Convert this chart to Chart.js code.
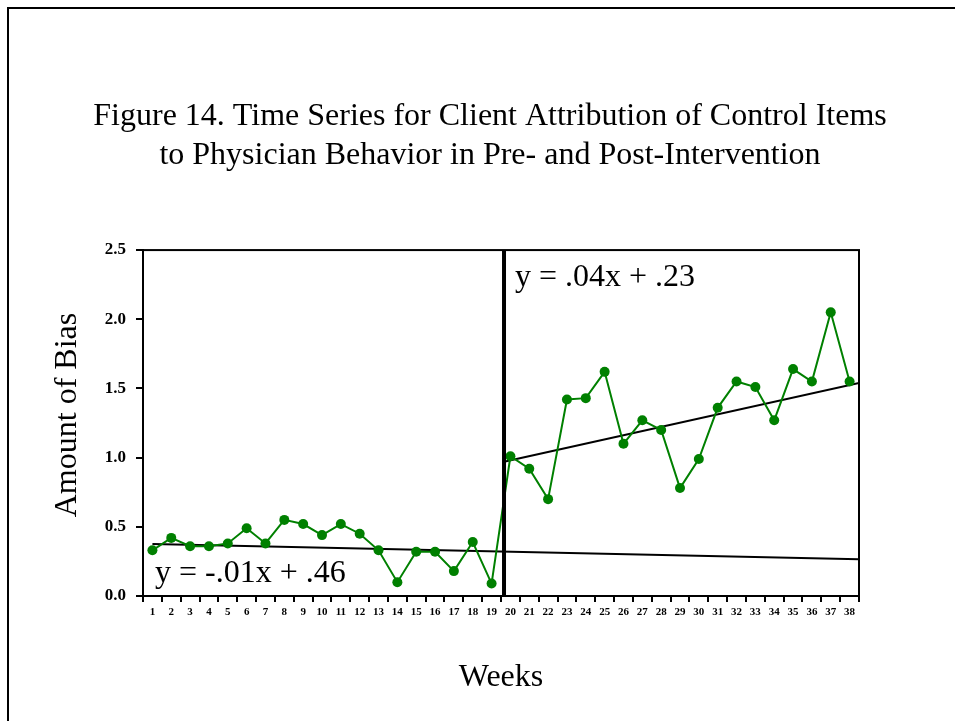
<!DOCTYPE html>
<html>
<head>
<meta charset="utf-8">
<script src="https://cdn.jsdelivr.net/npm/chart.js@4"></script>
<style>
  html, body { margin: 0; padding: 0; background: #fff; overflow: hidden; }
  .frame { position: absolute; left: 7px; top: 7px; border: 2px solid #000; width: 962px; height: 760px; }
  canvas { display: block; }
</style>
</head>
<body>
<div class="frame"><canvas id="myChart" width="962" height="760"></canvas></div>
<script>
const weeks = ["1","2","3","4","5","6","7","8","9","10","11","12","13","14","15","16","17","18","19",
    "20","21","22","23","24","25","26","27","28","29","30","31","32","33","34","35","36","37","38"]
const biasValues = [0.33, 0.42, 0.36, 0.36, 0.38, 0.49, 0.38, 0.55, 0.52, 0.44, 0.52, 0.45, 0.33, 0.10, 0.32, 0.32, 0.18, 0.39, 0.09,
    1.01, 0.92, 0.70, 1.42, 1.43, 1.62, 1.10, 1.27, 1.20, 0.78, 0.99, 1.36, 1.55, 1.51, 1.27, 1.64, 1.55, 2.05, 1.55]
const yTicks = [0, 0.5, 1.0, 1.5, 2.0, 2.5]

// fitted lines, start and end week
const preTrendX = [1, 38.5]
const preTrendY = [0.375, 0.265]
const postTrendX = [19.66, 38.5]
const postTrendY = [0.97, 1.54]
const interventionWeek = 19.66

const preLabel = "y = -.01x + .46"
const postLabel = "y = .04x + .23"
const preLabelAt = [1.14, 0.165]
const postLabelAt = [20.24, 2.30]

const serif = "'Liberation Serif', 'Times New Roman', serif"
const ctx = document.getElementById('myChart');

const points = biasValues.map((v, i) => ({ x: i + 1, y: v }))
const preLine = preTrendX.map((x, i) => ({ x: x, y: preTrendY[i] }))
const postLine = postTrendX.map((x, i) => ({ x: x, y: postTrendY[i] }))
const phaseLine = [{ x: interventionWeek, y: yTicks[0] }, { x: interventionWeek, y: yTicks[yTicks.length - 1] }]

const boxAndText = {
    id: 'boxAndText',
    afterDatasetsDraw(chart) {
        const c = chart.ctx
        const a = chart.chartArea
        const xs = chart.scales.x
        const ys = chart.scales.y
        c.save()
        c.strokeStyle = '#000'
        c.lineWidth = 2
        c.strokeRect(a.left, a.top, a.right - a.left, a.bottom - a.top)
        c.fillStyle = '#000'
        c.font = '32px ' + serif
        c.textAlign = 'left'
        c.textBaseline = 'middle'
        c.fillText(preLabel, xs.getPixelForValue(preLabelAt[0]), ys.getPixelForValue(preLabelAt[1]))
        c.fillText(postLabel, xs.getPixelForValue(postLabelAt[0]), ys.getPixelForValue(postLabelAt[1]))
        c.restore()
    }
}

new Chart(ctx, {
    type: 'line',
    data: {
        datasets: [{
            label: 'Amount of Bias',
            data: points,
            borderColor: '#008000',
            backgroundColor: '#008000',
            borderWidth: 2,
            pointRadius: 5,
            pointBorderWidth: 0,
            order: 1
        }, {
            label: 'pre trend',
            data: preLine,
            borderColor: '#000',
            borderWidth: 2,
            pointRadius: 0,
            order: 2
        }, {
            label: 'post trend',
            data: postLine,
            borderColor: '#000',
            borderWidth: 2,
            pointRadius: 0,
            order: 2
        }, {
            label: 'intervention',
            data: phaseLine,
            borderColor: '#000',
            borderWidth: 4,
            pointRadius: 0,
            order: 0
        }]
    },
    options: {
        responsive: false,
        animation: false,
        layout: { padding: 0 },
        plugins: {
            legend: { display: false },
            tooltip: { enabled: false },
            title: {
                display: true,
                text: ["Figure 14. Time Series for Client Attribution of Control Items",
                    "to Physician Behavior in Pre- and Post-Intervention"],
                color: '#000',
                font: { family: serif, size: 32, weight: 'normal', lineHeight: 1.22 },
                padding: { top: 88, bottom: 75 }
            }
        },
        scales: {
            x: {
                type: 'linear',
                min: 0.5,
                max: 38.5,
                afterBuildTicks: s => { s.ticks = weeks.map((w, i) => ({ value: i + 1 })) },
                afterFit: s => { s.height = 173 },
                ticks: {
                    autoSkip: false,
                    maxRotation: 0,
                    color: '#000',
                    padding: 4,
                    font: { family: serif, size: 11, weight: 'bold' },
                    callback: (v, i) => weeks[i]
                },
                grid: { offset: true, drawOnChartArea: false, color: '#000', tickLength: 6, lineWidth: 2 },
                border: { color: '#000', width: 2 },
                title: {
                    display: true,
                    text: 'Weeks',
                    color: '#000',
                    font: { family: serif, size: 32 },
                    padding: { bottom: 72 }
                }
            },
            y: {
                min: 0,
                max: 2.5,
                afterBuildTicks: s => { s.ticks = yTicks.map(v => ({ value: v })) },
                afterFit: s => { s.width = 134 },
                ticks: {
                    color: '#000',
                    padding: 10,
                    font: { family: serif, size: 17, weight: 'bold' },
                    callback: v => v.toFixed(1)
                },
                grid: { drawOnChartArea: false, color: '#000', tickLength: 7, lineWidth: 2 },
                border: { color: '#000', width: 2 },
                title: {
                    display: true,
                    text: '  Amount of Bias',
                    color: '#000',
                    font: { family: serif, size: 32 },
                    padding: { top: 39 }
                }
            },
            // empty right-hand space so the title centres on the whole frame
            rightSpace: {
                type: 'linear',
                position: 'right',
                ticks: { display: false },
                grid: { display: false },
                border: { display: false },
                afterFit: s => { s.width = 112 }
            }
        }
    },
    plugins: [boxAndText]
});
</script>
</body>
</html>
